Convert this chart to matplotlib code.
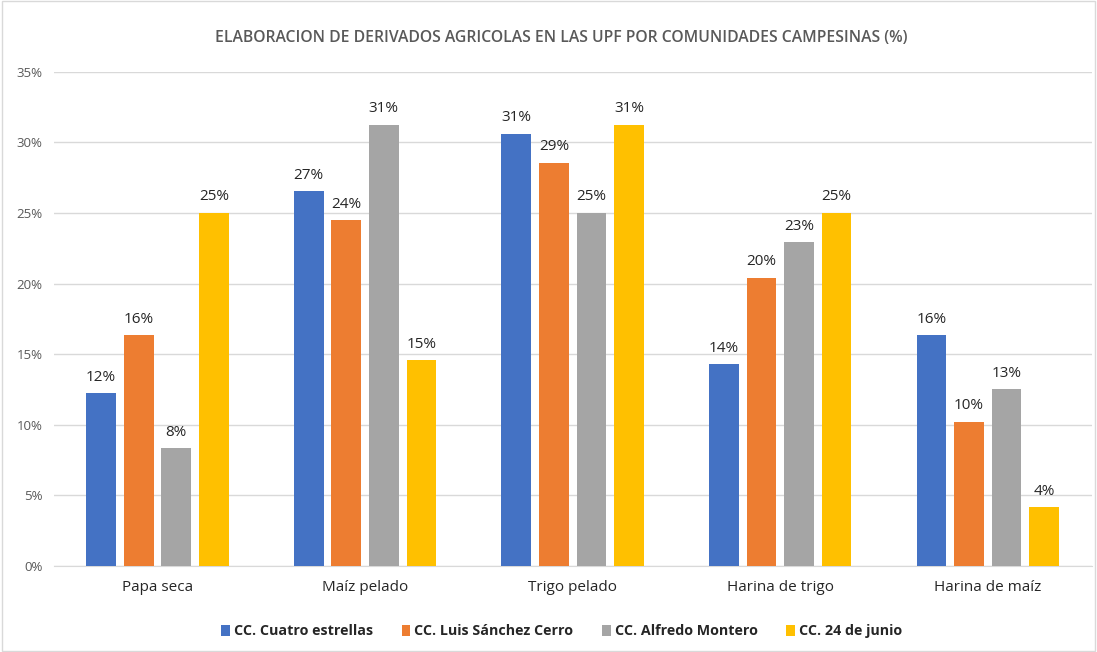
import numpy as np
import matplotlib
matplotlib.use("Agg")
import matplotlib.pyplot as plt
from matplotlib import font_manager
from matplotlib.ticker import FuncFormatter

names = {f.name for f in font_manager.fontManager.ttflist}
font = "Liberation Sans Narrow" if "Liberation Sans Narrow" in names else "Open Sans"
plt.rcParams["font.family"] = [font, "DejaVu Sans"]

categories = ["Papa seca", "Maíz pelado", "Trigo pelado", "Harina de trigo", "Harina de maíz"]
series_names = ["CC. Cuatro estrellas", "CC. Luis Sánchez Cerro",
                "CC. Alfredo Montero", "CC. 24 de junio"]
cuatro_estrellas = [12.24, 26.53, 30.61, 14.29, 16.33]
luis_sanchez = [16.33, 24.49, 28.57, 20.41, 10.20]
alfredo_montero = [8.33, 31.25, 25.00, 22.92, 12.50]
junio_24 = [25.00, 14.58, 31.25, 25.00, 4.17]
colors = ["#4472C4", "#ED7D31", "#A5A5A5", "#FFC000"]

series = [cuatro_estrellas, luis_sanchez, alfredo_montero, junio_24]

fig = plt.figure(figsize=(10.97, 6.52), dpi=100)
ax = fig.add_axes([0.049, 0.132, 0.946, 0.758])

x = np.arange(len(categories))
width = 0.143
step = 0.181
for i, (vals, name, c) in enumerate(zip(series, series_names, colors)):
    pos = x + (i - 1.5) * step
    bars = ax.bar(pos, vals, width, color=c, label=name, zorder=3)
    for b, v in zip(bars, vals):
        # excel style rounding (half up)
        ax.text(b.get_x() + b.get_width() / 2, v + 0.6, f"{int(v + 0.5)}%",
                ha="center", va="bottom", fontsize=11, color="#262626")

ax.set_ylim(0, 35)
ax.set_xlim(-0.5, len(categories) - 0.5)
ax.set_yticks(np.arange(0, 36, 5))
ax.yaxis.set_major_formatter(FuncFormatter(lambda v, p: f"{v:.0f}%"))
ax.grid(axis="y", color="#D9D9D9", linewidth=1, zorder=0)
for s in ["top", "right", "left"]:
    ax.spines[s].set_visible(False)
ax.spines["bottom"].set_color("#D9D9D9")
ax.tick_params(axis="y", length=0, labelsize=9.5, labelcolor="#595959", pad=8)
ax.tick_params(axis="x", length=0, labelsize=11, labelcolor="#262626", pad=10)
ax.set_xticks(x)
ax.set_xticklabels(categories)

fig.text(0.512, 0.942, "ELABORACION DE DERIVADOS AGRICOLAS EN LAS UPF POR COMUNIDADES CAMPESINAS (%)",
         ha="center", va="center", fontsize=11.3, color="#595959", fontweight="semibold")

leg = fig.legend(loc="center", bbox_to_anchor=(0.512, 0.032), ncol=4, frameon=False,
                 fontsize=10.3, handlelength=0.6, handleheight=0.8, handletextpad=0.3,
                 columnspacing=2.0)
for t in leg.get_texts():
    t.set_fontweight("bold")
    t.set_color("#262626")

fig.patches.append(plt.Rectangle((0.002, 0.002), 0.996, 0.996, transform=fig.transFigure,
                                 fill=False, edgecolor="#D9D9D9", linewidth=1))

fig.savefig("out.png", dpi=100)
